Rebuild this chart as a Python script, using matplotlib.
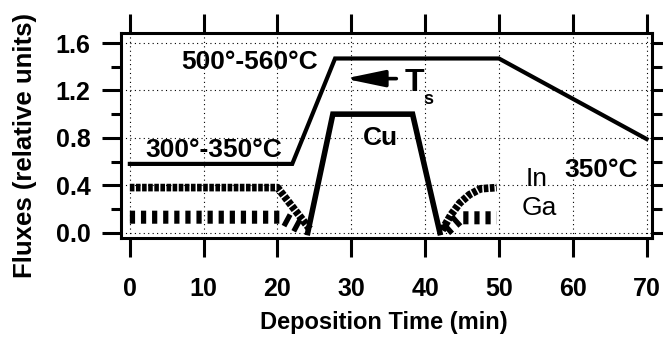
import matplotlib.pyplot as plt
from matplotlib.ticker import MultipleLocator

plt.rcParams['font.family'] = ['Liberation Sans', 'DejaVu Sans']

# substrate temperature profile T_s
ts_time = [0, 22, 27.8, 50, 70]
ts_flux = [0.58, 0.58, 1.47, 1.47, 0.79]

# Cu flux
cu_time = [24.1, 27.5, 38.3, 42.0]
cu_flux = [0.0, 1.0, 1.0, 0.0]

# In flux (before / after the Cu step)
in_time_a = [0, 20, 24.5]
in_flux_a = [0.38, 0.38, 0.02]
in_time_b = [42.3, 43.5, 44.7, 46.0, 47.5, 49.7]
in_flux_b = [0.02, 0.15, 0.25, 0.32, 0.37, 0.38]

# Ga flux
ga_time_a = [0, 20.5, 23.5]
ga_flux_a = [0.13, 0.13, 0.03]
ga_time_b = [42.8, 44.7, 49.7]
ga_flux_b = [0.02, 0.125, 0.125]

x_ticks = [0, 10, 20, 30, 40, 50, 60, 70]
y_ticks = [0.0, 0.4, 0.8, 1.2, 1.6]
y_tick_labels = ['0.0', '0.4', '0.8', '1.2', '1.6']

fig = plt.figure(figsize=(6.63, 3.37), dpi=100)
ax = fig.add_axes([0.1825, 0.294, 0.8005, 0.608])

ax.set_xlim(-1.2, 70.7)
ax.set_ylim(-0.045, 1.685)

# dotted grid
for x in x_ticks:
    ax.axvline(x, color='black', lw=0.8, ls=(0, (1, 3)), zorder=1)
for y in y_ticks:
    ax.axhline(y, color='black', lw=0.8, ls=(0, (1, 3)), zorder=1)

ax.plot(ts_time, ts_flux, color='black', lw=3.0, solid_joinstyle='miter', zorder=3)
ax.plot(cu_time, cu_flux, color='black', lw=4.0, solid_joinstyle='miter', zorder=3)

for xs, ys in [(in_time_a, in_flux_a), (in_time_b, in_flux_b)]:
    ax.plot(xs, ys, color='black', lw=5.5, ls=(0, (0.6, 0.2)),
            dash_capstyle='butt', zorder=2)
for xs, ys in [(ga_time_a, ga_flux_a), (ga_time_b, ga_flux_b)]:
    ax.plot(xs, ys, color='black', lw=9.4, ls=(0, (0.4, 0.45)),
            dash_capstyle='butt', zorder=2)

# arrow pointing to the T_s curve
ax.annotate('', xy=(29.1, 1.30), xytext=(36.1, 1.30),
            arrowprops=dict(arrowstyle='-|>,head_length=2.4,head_width=0.5',
                            mutation_scale=10, lw=2.6, color='black',
                            shrinkA=0, shrinkB=0), zorder=4)

txt = dict(fontsize=19, fontweight='bold', ha='center', va='center', zorder=5)
ax.text(16.2, 1.44, '500°-560°C', **txt)
ax.text(11.4, 0.70, '300°-350°C', **txt)
ax.text(34.0, 0.80, 'Cu', **txt)
ax.text(63.9, 0.53, '350°C', **txt)
ax.text(38.5, 1.26, 'T', fontsize=23, fontweight='bold', ha='center', va='center', zorder=5)
ax.text(40.4, 1.12, 's', fontsize=13, fontweight='bold', ha='center', va='center', zorder=5)
ax.text(55.1, 0.45, 'In', fontsize=19, ha='center', va='center', zorder=5)
ax.text(55.5, 0.21, 'Ga', fontsize=19, ha='center', va='center', zorder=5)

ax.set_xticks(x_ticks)
ax.set_yticks(y_ticks)
ax.set_yticklabels(y_tick_labels)
ax.yaxis.set_minor_locator(MultipleLocator(0.2))

for s in ax.spines.values():
    s.set_linewidth(2.2)

ax.tick_params(axis='x', which='major', direction='out', length=14, width=2.2,
               top=True, bottom=True, pad=14, labelsize=18)
ax.tick_params(axis='y', which='major', direction='out', length=14, width=2.2,
               left=True, right=True, pad=8, labelsize=18)
ax.tick_params(axis='y', which='minor', direction='out', length=7, width=2.2,
               left=True, right=True)
for lab in ax.get_xticklabels() + ax.get_yticklabels():
    lab.set_fontweight('bold')

fig.text(383.5 / 663, 1 - 323 / 337, 'Deposition Time (min)', fontsize=17,
         fontweight='bold', ha='center', va='center')
fig.text(25 / 663, 1 - 146 / 337, 'Fluxes (relative units)', fontsize=18.5,
         fontweight='bold', ha='center', va='center', rotation=90)

fig.savefig('out.png', dpi=100)
